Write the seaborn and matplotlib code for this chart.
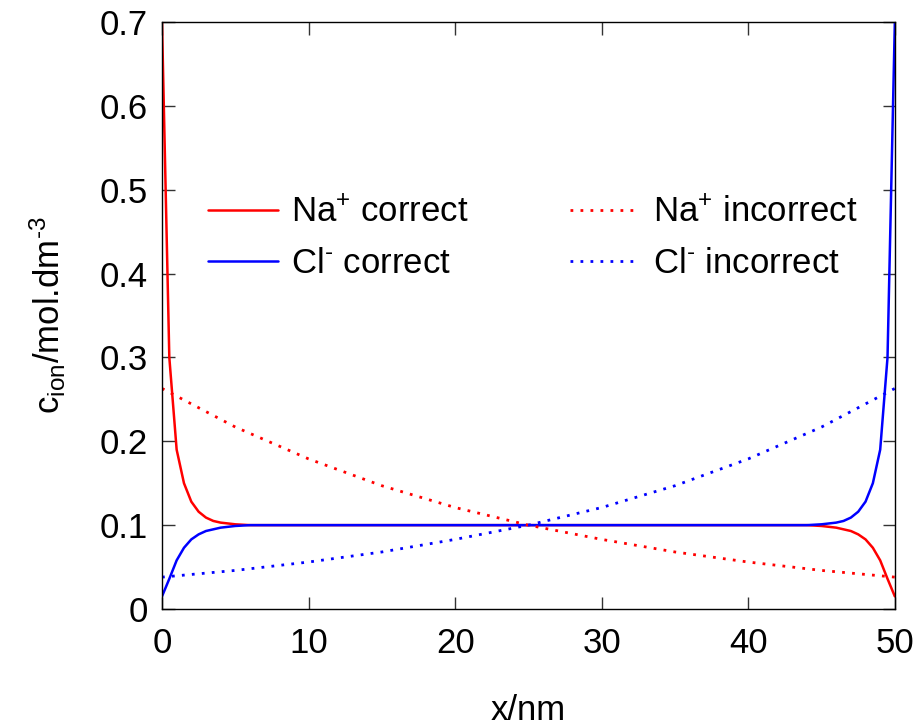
import numpy as np
import pandas as pd
import seaborn as sns
import matplotlib.pyplot as plt

sns.set_style('ticks')
plt.rcParams['font.family'] = ['Liberation Sans', 'DejaVu Sans']
plt.rcParams['mathtext.default'] = 'regular'
plt.rcParams['text.color'] = 'black'
plt.rcParams['axes.labelcolor'] = 'black'
plt.rcParams['xtick.labelcolor'] = 'black'
plt.rcParams['ytick.labelcolor'] = 'black'

# positions along the channel (nm) for the "correct" profiles
x_corr = [0, 0.5, 1, 1.5, 2, 2.5, 3, 3.5, 4, 5, 6, 25,
          44, 45, 46, 46.5, 47, 47.5, 48, 48.5, 49, 49.5, 50]
na_corr = [0.70, 0.30, 0.19, 0.15, 0.128, 0.116, 0.109, 0.105, 0.103, 0.101, 0.100, 0.100,
           0.100, 0.099, 0.097, 0.095, 0.093, 0.089, 0.083, 0.073, 0.058, 0.036, 0.015]
cl_corr = [0.015, 0.036, 0.058, 0.073, 0.083, 0.089, 0.093, 0.095, 0.097, 0.099, 0.100, 0.100,
           0.100, 0.101, 0.103, 0.105, 0.109, 0.116, 0.128, 0.15, 0.19, 0.30, 0.70]

# "incorrect" profiles
x_inc = [0, 5, 10, 15, 20, 25, 30, 35, 40, 45, 50]
na_inc = [0.263, 0.217, 0.179, 0.147, 0.121, 0.100, 0.083, 0.068, 0.056, 0.046, 0.038]
cl_inc = [0.038, 0.046, 0.056, 0.068, 0.083, 0.100, 0.121, 0.147, 0.179, 0.217, 0.263]

yticks = [0, 0.1, 0.2, 0.3, 0.4, 0.5, 0.6, 0.7]
ytick_labels = ['0', '0.1', '0.2', '0.3', '0.4', '0.5', '0.6', '0.7']
xticks = [0, 10, 20, 30, 40, 50]

fig = plt.figure(figsize=(9.23, 7.25), dpi=100)
ax = fig.add_axes([0.1755, 0.16, 0.794, 0.8097])

dot = (0, (1, 2.6))
sns.lineplot(x=x_corr, y=na_corr, color='#ff0000', lw=1.8, ax=ax, label='Na$^{+}$ correct')
sns.lineplot(x=x_corr, y=cl_corr, color='#0000ff', lw=1.8, ax=ax, label='Cl$^{\u2010}$ correct')
sns.lineplot(x=x_inc, y=na_inc, color='#ff0000', lw=2.0, linestyle=dot, ax=ax,
             label='Na$^{+}$ incorrect')
sns.lineplot(x=x_inc, y=cl_inc, color='#0000ff', lw=2.0, linestyle=dot, ax=ax,
             label='Cl$^{\u2010}$ incorrect')

ax.set_xlim(0, 50)
ax.set_ylim(0, 0.7)
ax.set_xticks(xticks)
ax.set_xticklabels([str(t) for t in xticks])
ax.set_yticks(yticks)
ax.set_yticklabels(ytick_labels)
ax.tick_params(direction='in', length=9, width=1, color='#333333',
               top=True, right=True, labelsize=25)
ax.tick_params(axis='x', pad=13)
ax.tick_params(axis='y', pad=10)
for s in ax.spines.values():
    s.set_linewidth(1.0)
    s.set_color('black')

ax.set_xlabel('x/nm', fontsize=25)
ax.set_ylabel('c$_{ion}$/mol.dm$^{\u2010 3}$', fontsize=25)
ax.xaxis.set_label_coords(0.5, -0.144)
ax.yaxis.set_label_coords(-0.128, 0.5)

ax.legend(loc='upper left', bbox_to_anchor=(0.063, 0.703), ncol=2, frameon=False,
          fontsize=25, handlelength=2.0, handletextpad=0.4, columnspacing=2.9,
          borderpad=0, borderaxespad=0, labelspacing=0.52)

fig.savefig('out.png', dpi=100)
